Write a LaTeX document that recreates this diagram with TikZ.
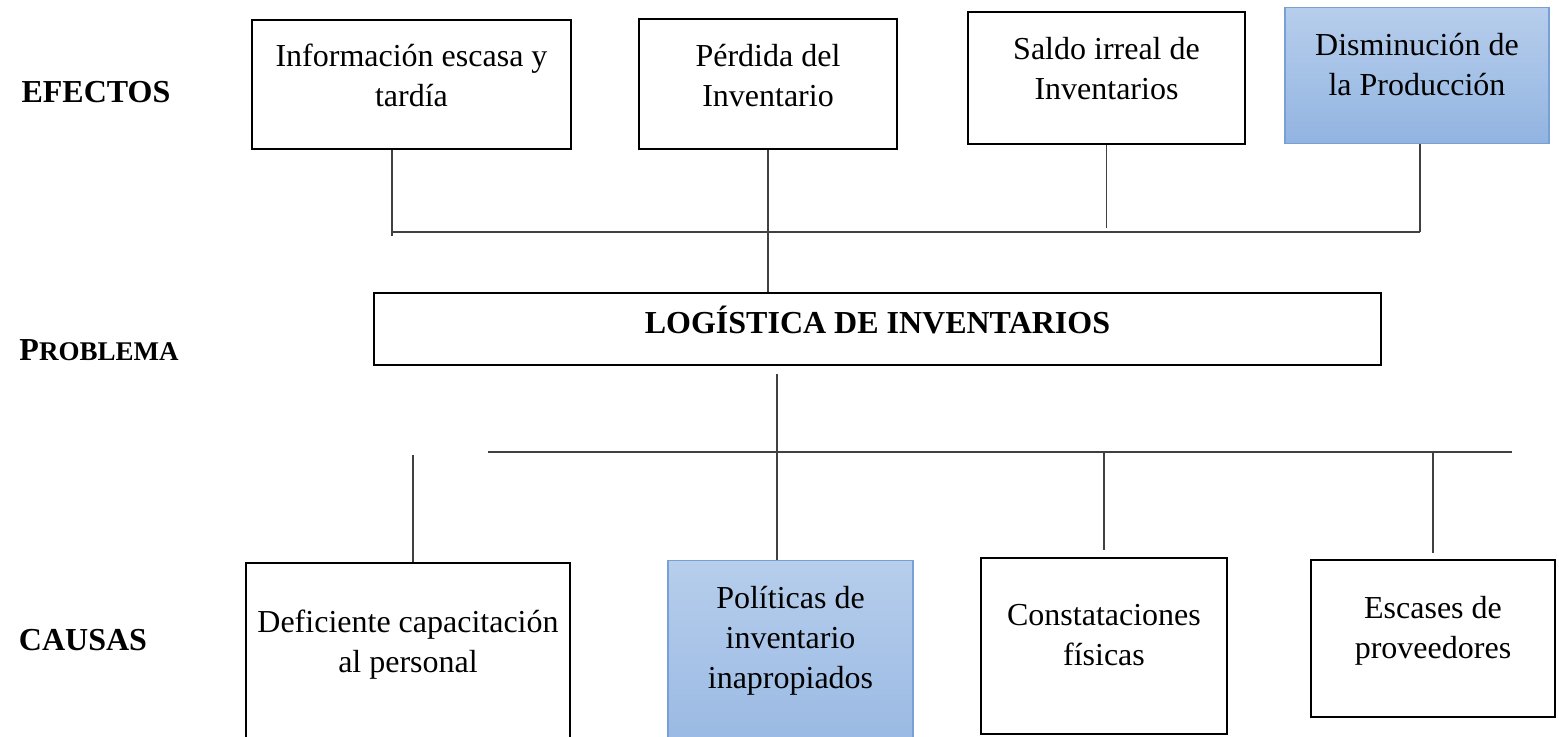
\documentclass[tikz,border=0pt]{standalone}
\usepackage{fontspec}
\setmainfont{Liberation Serif}
\usepackage{tikz}
\definecolor{fBlueTop}{RGB}{183,206,236}
\definecolor{fBlueBottom}{RGB}{146,180,225}
\definecolor{fBlueEdge}{RGB}{120,160,212}
\definecolor{fLineGray}{RGB}{64,64,64}
\tikzstyle{fBox} = [rectangle, anchor=north, draw=black, line width=1pt, inner sep=0pt, align=flush center, font=\fontsize{16}{20}\selectfont]
\tikzstyle{fBlue} = [fBox, draw=fBlueEdge, line width=0.6pt, top color=fBlueTop, bottom color=fBlueBottom]
\tikzstyle{fProblem} = [fBox, font=\bfseries\fontsize{16}{20}\selectfont]
\tikzstyle{fLabel} = [font=\bfseries\fontsize{16}{20}\selectfont]
\tikzstyle{fLine} = [draw=fLineGray, line width=0.65pt]

\begin{document}
\begin{tikzpicture}[x=0.5pt, y=-0.5pt]
    \useasboundingbox (0,0) rectangle (1559,736);

    \node (lEfectos) [fLabel] at (96,92) {EFECTOS};
    \node (lProblema) [fLabel] at (99,350) {P{\fontsize{13.5}{16}\selectfont ROBLEMA}};
    \node (lCausas) [fLabel] at (83,640) {CAUSAS};

    \node (eInfo) [fBox, text width=159.5pt, text height=23pt, text depth=41.5pt] at (411.5,19) {Información escasa y\\tardía};
    \node (ePerdida) [fBox, text width=129pt, text height=23.5pt, text depth=41.5pt] at (768,18) {Pérdida del\\Inventario};
    \node (eSaldo) [fBox, text width=138.5pt, text height=23.5pt, text depth=42.5pt] at (1106.5,11) {Saldo irreal de\\Inventarios};
    \node (eDismin) [fBlue, text width=132pt, text height=24pt, text depth=44pt] at (1417,7) {Disminución de\\la Producción};

    \node (prob) [fProblem, text width=503.5pt, text height=20pt, text depth=16pt] at (877.5,292) {LOGÍSTICA DE INVENTARIOS};

    \node (cDef) [fBox, text width=162pt, text height=34.5pt, text depth=79.5pt] at (408,562) {Deficiente capacitación\\al personal};
    \node (cPoliticas) [fBlue, text width=122.5pt, text height=24pt, text depth=91pt] at (790.5,560) {Políticas de\\inventario\\inapropiados};
    \node (cConst) [fBox, text width=123pt, text height=33.5pt, text depth=54.5pt] at (1104,557) {Constataciones\\físicas};
    \node (cEsc) [fBox, text width=122pt, text height=29pt, text depth=49.5pt] at (1433,559) {Escases de\\proveedores};

    \coordinate (busEL) at (392,232);
    \coordinate (busER) at (1420,232);
    \coordinate (busCL) at (488,452);
    \coordinate (busCR) at (1512,452);
    \coordinate (linkDef) at (413,455);
    \coordinate (linkPol) at (777,452);

    \draw [fLine] (busEL) -- (busER);
    \draw [fLine] (eInfo.south -| busEL) -- ([yshift=-2pt]busEL);
    \draw [fLine] (ePerdida.south) -- (ePerdida.south |- prob.north);
    \draw [fLine, shorten >=2pt] (eSaldo.south) -- (eSaldo.south |- busEL);
    \draw [fLine] (eDismin.south -| busER) -- (busER);

    \draw [fLine] (busCL) -- (busCR);
    \draw [fLine, shorten <=4pt] (linkPol |- prob.south) -- (linkPol |- cPoliticas.north);
    \draw [fLine] (linkDef) -- (linkDef |- cDef.north);
    \draw [fLine, shorten >=3.5pt] (cConst.north |- busCL) -- (cConst.north);
    \draw [fLine, shorten >=3pt] (cEsc.north |- busCL) -- (cEsc.north);
\end{tikzpicture}
\end{document}
